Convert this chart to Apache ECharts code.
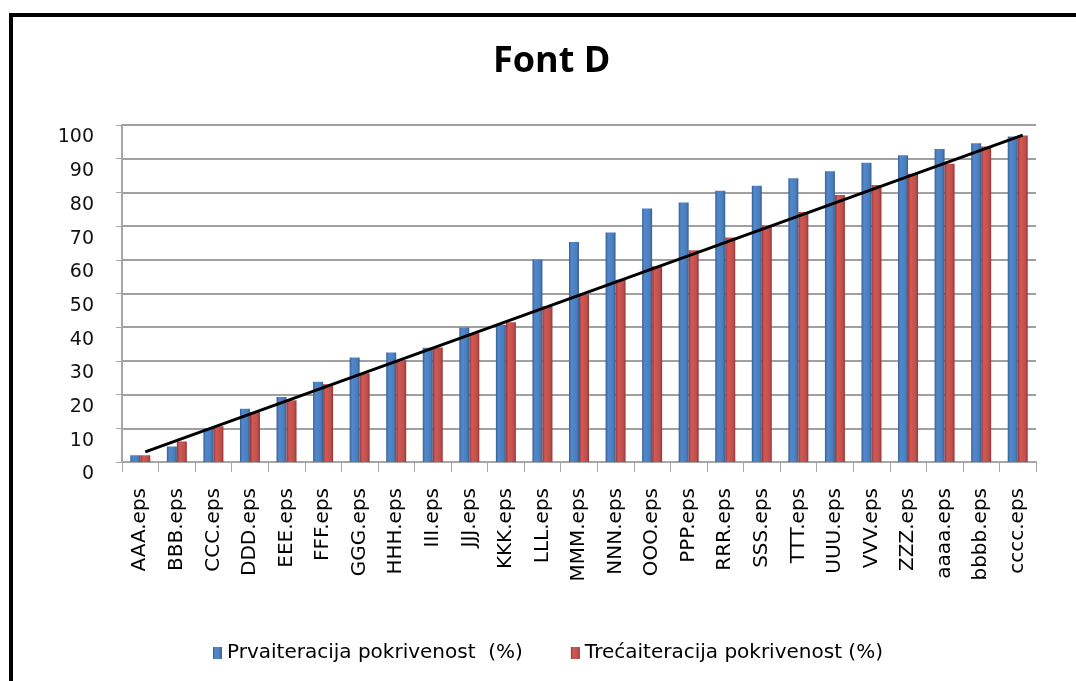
<!DOCTYPE html>
<html>
<head>
<meta charset="utf-8">
<title>Font D</title>
<script src="https://cdn.jsdelivr.net/npm/echarts@6/dist/echarts.min.js"></script>
<style>
  html, body { margin: 0; padding: 0; background: #ffffff; }
  #chart { width: 1076px; height: 681px; }
</style>
</head>
<body>
<div id="chart"></div>
<script>
// Coverage per font file, first and third iteration (%)
const categories = ['AAA.eps', 'BBB.eps', 'CCC.eps', 'DDD.eps', 'EEE.eps', 'FFF.eps', 'GGG.eps',
  'HHH.eps', 'III.eps', 'JJJ.eps', 'KKK.eps', 'LLL.eps', 'MMM.eps', 'NNN.eps', 'OOO.eps',
  'PPP.eps', 'RRR.eps', 'SSS.eps', 'TTT.eps', 'UUU.eps', 'VVV.eps', 'ZZZ.eps', 'aaaa.eps',
  'bbbb.eps', 'cccc.eps'];
const prvaIteracija = [2, 4.6, 10, 15.8, 19.3, 23.8, 31, 32.5, 33.9, 39.9, 40.7, 60.1, 65.3,
  68.1, 75.2, 77, 80.5, 82, 84.2, 86.3, 88.8, 91, 92.9, 94.6, 96.6];
const trecaIteracija = [2, 6.1, 10.6, 14.8, 18.3, 23.1, 26.3, 30.2, 34, 38.2, 41.5, 46.2, 49.7,
  54.1, 58.1, 62.8, 66.6, 70.1, 74.2, 79.2, 82.2, 85.5, 88.5, 93.6, 96.9];
// Trend line end points (value at first and last file)
const trendStart = 3;
const trendEnd = 97;
const seriesNames = ['Prvaiteracija pokrivenost  (%)', 'Trećaiteracija pokrivenost (%)'];
const yTicks = { min: 0, max: 100, interval: 10 };

const chart = echarts.init(document.getElementById('chart'), null, { renderer: 'canvas' });

function cylinder(dark, light, mid) {
  return new echarts.graphic.LinearGradient(0, 0, 1, 0, [
    { offset: 0, color: dark },
    { offset: 0.25, color: light },
    { offset: 0.75, color: mid },
    { offset: 1, color: dark }
  ]);
}

const option = {
  backgroundColor: '#ffffff',
  animation: false,
  title: {
    text: 'Font D',
    left: 488,
    top: 39,
    textStyle: { fontFamily: 'Open Sans', fontWeight: 'bold', fontSize: 36, color: '#000000' }
  },
  legend: {
    left: 208,
    top: 638,
    itemWidth: 9,
    itemHeight: 12,
    itemGap: 48,
    icon: 'rect',
    textStyle: { fontFamily: 'DejaVu Sans', fontSize: 20, color: '#000000' },
    data: seriesNames
  },
  grid: { left: 122, right: 40, top: 125, bottom: 219 },
  xAxis: {
    type: 'category',
    data: categories,
    axisLine: { show: true, lineStyle: { color: '#a6a6a6', width: 2 } },
    axisTick: { show: true, length: 10, lineStyle: { color: '#a6a6a6', width: 1 } },
    axisLabel: {
      rotate: 90,
      margin: 26,
      fontFamily: 'DejaVu Sans',
      fontSize: 20,
      color: '#000000'
    }
  },
  yAxis: {
    type: 'value',
    min: yTicks.min,
    max: yTicks.max,
    interval: yTicks.interval,
    axisLine: { show: true, lineStyle: { color: '#a6a6a6', width: 2 } },
    axisTick: { show: true, length: 6, lineStyle: { color: '#a6a6a6' } },
    axisLabel: {
      margin: 28,
      verticalAlign: 'top',
      padding: [3, 0, 0, 0],
      fontFamily: 'DejaVu Sans',
      fontSize: 19,
      color: '#111111'
    },
    splitLine: { show: true, lineStyle: { color: '#a0a0a0', width: 2 } }
  },
  series: [
    {
      name: seriesNames[0],
      type: 'bar',
      data: prvaIteracija,
      barWidth: 10,
      barGap: '0%',
      itemStyle: { color: cylinder('#375f94', '#5288cc', '#4a7ebd') }
    },
    {
      name: seriesNames[1],
      type: 'bar',
      data: trecaIteracija,
      barWidth: 10,
      barGap: '0%',
      itemStyle: { color: cylinder('#943633', '#cf5955', '#c0504d') },
      markLine: {
        silent: true,
        symbol: ['none', 'none'],
        label: { show: false },
        lineStyle: { color: '#000000', width: 3, type: 'solid' },
        data: [[
          { coord: [categories[0], trendStart] },
          { coord: [categories[categories.length - 1], trendEnd] }
        ]]
      }
    }
  ],
  graphic: [
    {
      type: 'polyline',
      silent: true,
      shape: { points: [[11, 681], [11, 15], [1076, 15]] },
      style: { stroke: '#000000', lineWidth: 4, fill: null }
    }
  ]
};

chart.setOption(option);
</script>
</body>
</html>
